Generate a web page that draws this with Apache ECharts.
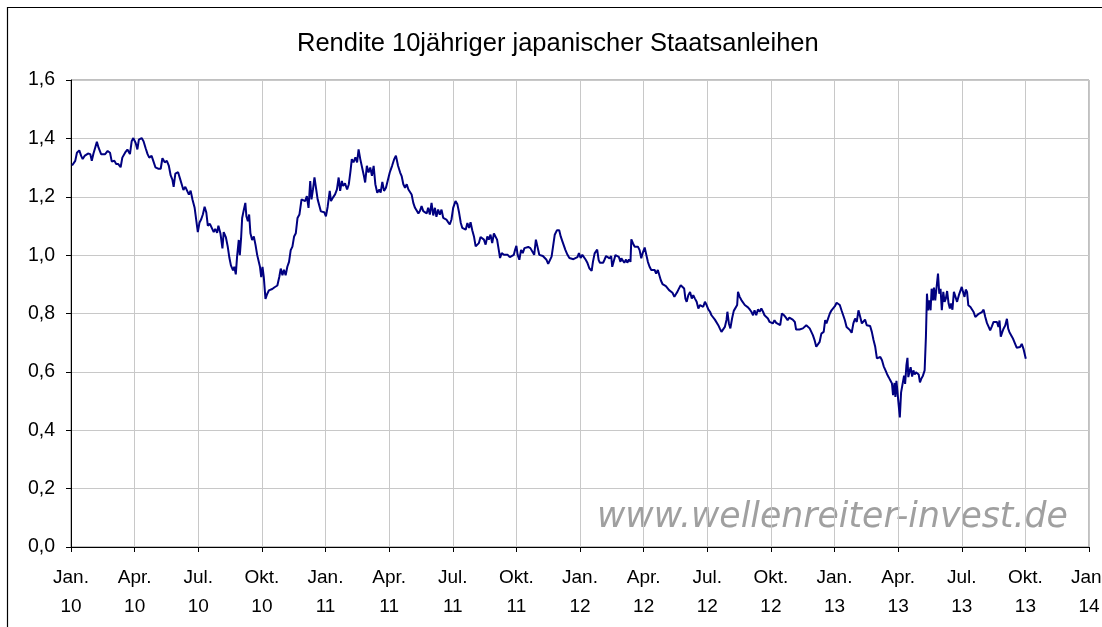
<!DOCTYPE html>
<html>
<head>
<meta charset="utf-8">
<title>Rendite 10jähriger japanischer Staatsanleihen</title>
<script src="https://cdn.jsdelivr.net/npm/echarts@6/dist/echarts.min.js"></script>
<style>
  html, body { margin: 0; padding: 0; background: #fff; }
  #chart { width: 1102px; height: 627px; }
</style>
</head>
<body>
<div id="chart"></div>
<script>
// Monate seit Jan. 2010, Rendite in %
const titel = 'Rendite 10jähriger japanischer Staatsanleihen';
const quelle = 'www.wellenreiter-invest.de';
const xLabels = ['Jan.\n10', 'Apr.\n10', 'Jul.\n10', 'Okt.\n10',
                 'Jan.\n11', 'Apr.\n11', 'Jul.\n11', 'Okt.\n11',
                 'Jan.\n12', 'Apr.\n12', 'Jul.\n12', 'Okt.\n12',
                 'Jan.\n13', 'Apr.\n13', 'Jul.\n13', 'Okt.\n13', 'Jan.\n14'];

const jahr2010 = [
  [0.05,1.307],[0.2,1.323],[0.28,1.351],[0.39,1.359],[0.48,1.34],[0.55,1.329],[0.64,1.34],[0.7,1.346],[0.8,1.348],[0.91,1.346],
  [0.98,1.323],[1.06,1.348],[1.14,1.368],[1.22,1.388],[1.3,1.368],[1.42,1.346],[1.61,1.346],[1.73,1.357],[1.84,1.351],[1.92,1.321],
  [2.05,1.323],[2.13,1.312],[2.23,1.312],[2.34,1.301],[2.42,1.334],[2.55,1.351],[2.66,1.362],[2.78,1.346],[2.86,1.39],[2.94,1.401],
  [3.05,1.384],[3.13,1.362],[3.2,1.396],[3.33,1.401],[3.42,1.39],[3.52,1.366],[3.61,1.346],[3.69,1.334],[3.8,1.34],[3.88,1.323],
  [3.98,1.301],[4.11,1.296],[4.23,1.296],[4.31,1.332],[4.42,1.318],[4.52,1.323],[4.61,1.307],[4.7,1.273],[4.78,1.259],[4.84,1.234],
  [4.92,1.279],[5.05,1.284],[5.14,1.262],[5.23,1.24],[5.3,1.223],[5.39,1.234],[5.48,1.24],[5.56,1.207],[5.64,1.221],[5.73,1.19],
  [5.83,1.162],[5.91,1.168],[5.98,1.079],[6.06,1.112],[6.14,1.123],[6.22,1.14],[6.3,1.166],[6.38,1.146],[6.45,1.101],[6.55,1.107],
  [6.64,1.103],[6.73,1.079],[6.8,1.09],[6.89,1.076],[6.95,1.101],[7.05,1.073],[7.14,1.023],[7.2,1.079],[7.3,1.062],[7.39,1.029],
  [7.47,0.99],[7.54,0.965],[7.64,0.948],[7.7,0.96],[7.77,0.934],[7.83,0.994],[7.91,1.052],[7.96,1.0],[8.02,1.058],[8.07,1.127],
  [8.15,1.156],[8.22,1.179],[8.27,1.133],[8.34,1.116],[8.4,1.139],[8.46,1.075],[8.54,1.052],[8.62,1.064],[8.7,1.035],[8.78,1.0],
  [8.86,1.0],[8.91,0.96],[8.97,0.925],[9.03,0.96],[9.09,0.925],[9.17,0.85],[9.25,0.867],[9.33,0.879],[9.41,0.873],[9.49,0.884],
  [9.6,0.89],[9.73,0.896],[9.82,0.925],[9.89,0.954],[9.97,0.931],[10.04,0.95],[10.12,0.931],[10.2,0.96],[10.28,0.977],[10.36,1.017],
  [10.44,1.029],[10.52,1.064],[10.6,1.075],[10.68,1.127],[10.77,1.139],[10.87,1.191],[10.96,1.197],[11.04,1.185],[11.12,1.202],[11.2,1.162],
  [11.28,1.254],[11.34,1.191],[11.41,1.225],[11.48,1.266],[11.56,1.272],[11.63,1.191],[11.72,1.185],[11.78,1.15],[11.86,1.156],[11.94,1.147]
];

const jahr2011 = [
  [12.02,1.133],[12.1,1.165],[12.2,1.22],[12.26,1.185],[12.35,1.197],[12.45,1.208],[12.54,1.225],[12.62,1.266],[12.69,1.22],[12.77,1.254],
  [12.83,1.237],[12.92,1.246],[13.02,1.225],[13.1,1.243],[13.18,1.289],[13.24,1.329],[13.32,1.318],[13.41,1.335],[13.49,1.318],[13.56,1.362],
  [13.64,1.329],[13.72,1.324],[13.81,1.272],[13.87,1.249],[13.95,1.306],[14.03,1.283],[14.11,1.3],[14.19,1.272],[14.27,1.306],[14.35,1.243],
  [14.44,1.214],[14.54,1.225],[14.6,1.214],[14.68,1.251],[14.76,1.22],[14.85,1.231],[14.93,1.254],[15.03,1.283],[15.14,1.306],[15.23,1.327],
  [15.32,1.341],[15.42,1.306],[15.52,1.283],[15.59,1.271],[15.67,1.243],[15.75,1.231],[15.83,1.243],[15.91,1.225],[15.98,1.22],[16.06,1.208],
  [16.14,1.179],[16.22,1.162],[16.3,1.168],[16.38,1.143],[16.45,1.151],[16.53,1.168],[16.61,1.151],[16.69,1.156],[16.77,1.143],[16.84,1.162],
  [16.92,1.139],[17.0,1.179],[17.08,1.136],[17.16,1.162],[17.23,1.131],[17.31,1.156],[17.39,1.139],[17.47,1.156],[17.55,1.128],[17.63,1.124],
  [17.7,1.122],[17.78,1.113],[17.86,1.105],[17.94,1.122],[18.02,1.162],[18.13,1.185],[18.22,1.174],[18.3,1.145],[18.38,1.11],[18.45,1.093],
  [18.53,1.097],[18.61,1.087],[18.69,1.11],[18.77,1.093],[18.84,1.113],[18.92,1.085],[19.0,1.064],[19.08,1.03],[19.16,1.024],[19.23,1.041],
  [19.31,1.062],[19.39,1.064],[19.47,1.053],[19.55,1.036],[19.63,1.064],[19.7,1.053],[19.78,1.07],[19.86,1.041],[19.94,1.074],[20.02,1.076],
  [20.09,1.053],[20.17,1.018],[20.23,0.99],[20.31,1.007],[20.41,1.001],[20.5,0.995],[20.59,1.001],[20.69,0.993],[20.78,0.997],[20.88,1.001],
  [20.94,1.018],[21.0,1.032],[21.06,1.001],[21.14,0.984],[21.22,1.018],[21.3,1.007],[21.38,1.024],[21.47,1.021],[21.56,1.028],[21.66,1.024],
  [21.75,1.03],[21.84,1.001],[21.92,1.053],[22.0,1.055],[22.08,1.001],[22.16,1.001],[22.25,0.997],[22.34,0.993],[22.42,0.984],[22.5,0.97],
  [22.58,0.972],[22.66,0.995],[22.73,1.03],[22.81,1.07],[22.91,1.085],[23.02,1.085],[23.09,1.064],[23.17,1.047],[23.25,1.053],[23.31,1.018],
  [23.41,1.001],[23.5,0.99],[23.59,0.984],[23.69,0.986],[23.78,0.99],[23.88,0.993],[23.95,1.007]
];

const jahr2012 = [
  [24.03,0.99],[24.11,1.001],[24.19,0.995],[24.27,0.984],[24.34,0.975],[24.44,0.955],[24.5,0.96],[24.55,0.946],[24.61,0.977],[24.69,1.006],
  [24.75,1.011],[24.81,1.019],[24.88,0.983],[24.94,0.974],[25.02,0.971],[25.09,0.974],[25.16,0.985],[25.23,0.997],[25.31,1.0],[25.39,0.989],
  [25.47,0.997],[25.52,0.96],[25.59,0.966],[25.67,1.0],[25.75,1.0],[25.83,0.994],[25.91,0.977],[25.95,0.989],[26.03,0.983],[26.09,0.974],
  [26.17,0.985],[26.23,0.974],[26.31,0.985],[26.38,0.977],[26.42,1.054],[26.5,1.04],[26.58,1.029],[26.66,1.026],[26.73,1.029],[26.81,1.017],
  [26.89,0.989],[26.95,1.006],[27.05,1.026],[27.13,1.0],[27.2,0.977],[27.28,0.96],[27.36,0.949],[27.44,0.943],[27.52,0.949],[27.59,0.937],
  [27.67,0.949],[27.75,0.943],[27.81,0.914],[27.89,0.901],[27.97,0.903],[28.05,0.894],[28.13,0.897],[28.2,0.88],[28.28,0.874],[28.36,0.871],
  [28.45,0.857],[28.52,0.866],[28.59,0.874],[28.67,0.886],[28.75,0.897],[28.83,0.903],[28.91,0.886],[28.97,0.851],[29.03,0.84],[29.11,0.863],
  [29.19,0.874],[29.27,0.851],[29.34,0.863],[29.42,0.851],[29.5,0.84],[29.58,0.817],[29.66,0.829],[29.73,0.834],[29.81,0.823],[29.89,0.84],
  [29.97,0.829],[30.05,0.814],[30.13,0.806],[30.2,0.794],[30.28,0.789],[30.36,0.779],[30.44,0.777],[30.52,0.76],[30.59,0.749],[30.67,0.737],
  [30.75,0.743],[30.83,0.754],[30.91,0.779],[30.95,0.806],[31.02,0.766],[31.09,0.749],[31.17,0.783],[31.25,0.809],[31.33,0.811],[31.41,0.829],
  [31.45,0.874],[31.53,0.857],[31.61,0.846],[31.69,0.84],[31.77,0.829],[31.84,0.823],[31.92,0.821],[32.0,0.814],[32.08,0.806],[32.16,0.794],
  [32.23,0.811],[32.31,0.794],[32.39,0.814],[32.47,0.806],[32.55,0.817],[32.63,0.806],[32.7,0.794],[32.78,0.789],[32.86,0.783],[32.94,0.771],
  [33.02,0.777],[33.09,0.766],[33.17,0.777],[33.25,0.768],[33.34,0.766],[33.44,0.76],[33.52,0.8],[33.62,0.794],[33.71,0.786],[33.79,0.777],
  [33.87,0.786],[33.95,0.789],[34.03,0.779],[34.13,0.771],[34.19,0.745],[34.27,0.749],[34.35,0.745],[34.43,0.749],[34.51,0.749],[34.59,0.754],
  [34.67,0.76],[34.75,0.754],[34.83,0.749],[34.9,0.743],[34.98,0.726],[35.06,0.709],[35.14,0.686],[35.22,0.691],[35.3,0.703],[35.38,0.731],
  [35.43,0.734],[35.49,0.737],[35.56,0.777],[35.62,0.766],[35.7,0.771],[35.78,0.8],[35.86,0.811],[35.94,0.817]
];

const jahr2013 = [
  [36.02,0.825],[36.1,0.837],[36.17,0.837],[36.25,0.829],[36.33,0.811],[36.41,0.794],[36.49,0.777],[36.57,0.754],[36.65,0.76],[36.73,0.743],
  [36.81,0.734],[36.89,0.766],[36.97,0.783],[37.05,0.771],[37.13,0.811],[37.21,0.789],[37.29,0.766],[37.37,0.76],[37.44,0.779],[37.52,0.76],
  [37.6,0.76],[37.68,0.757],[37.76,0.737],[37.84,0.709],[37.92,0.686],[38.0,0.646],[38.08,0.651],[38.16,0.651],[38.24,0.64],[38.32,0.619],
  [38.4,0.606],[38.48,0.592],[38.56,0.581],[38.63,0.571],[38.71,0.56],[38.76,0.52],[38.83,0.562],[38.87,0.514],[38.92,0.569],[38.98,0.566],
  [39.08,0.444],[39.14,0.53],[39.22,0.53],[39.28,0.587],[39.33,0.559],[39.39,0.622],[39.44,0.648],[39.48,0.582],[39.55,0.605],[39.59,0.616],
  [39.66,0.584],[39.72,0.605],[39.78,0.591],[39.84,0.599],[39.91,0.602],[39.97,0.591],[40.03,0.564],[40.09,0.576],[40.17,0.587],[40.25,0.605],
  [40.31,0.719],[40.36,0.868],[40.41,0.811],[40.47,0.845],[40.53,0.811],[40.58,0.885],[40.64,0.845],[40.69,0.889],[40.75,0.845],[40.81,0.848],
  [40.88,0.937],[40.94,0.868],[41.0,0.885],[41.06,0.811],[41.13,0.874],[41.19,0.84],[41.25,0.851],[41.31,0.877],[41.38,0.834],[41.44,0.817],
  [41.5,0.834],[41.56,0.813],[41.63,0.874],[41.7,0.877],[41.78,0.84],[41.86,0.862],[41.94,0.868],[42.0,0.891],[42.06,0.874],[42.13,0.857],
  [42.19,0.882],[42.25,0.874],[42.31,0.828],[42.41,0.822],[42.48,0.817],[42.56,0.805],[42.64,0.788],[42.72,0.782],[42.8,0.799],[42.88,0.802],
  [42.95,0.805],[43.03,0.813],[43.11,0.788],[43.19,0.767],[43.27,0.754],[43.34,0.742],[43.42,0.756],[43.5,0.771],[43.58,0.774],[43.66,0.771],
  [43.73,0.754],[43.78,0.776],[43.84,0.721],[43.91,0.736],[43.97,0.748],[44.05,0.759],[44.13,0.782],[44.19,0.748],[44.25,0.736],[44.31,0.731],
  [44.38,0.719],[44.44,0.71],[44.52,0.708],[44.59,0.683],[44.67,0.679],[44.75,0.685],[44.83,0.696],[44.91,0.679],[44.97,0.673],[45.02,0.645]
];

const rendite = jahr2010.concat(jahr2011, jahr2012, jahr2013);

const chart = echarts.init(document.getElementById('chart'));
chart.setOption({
  animation: false,
  backgroundColor: '#fff',
  textStyle: { fontFamily: 'Liberation Sans, Arial, sans-serif' },
  title: {
    text: titel,
    left: 292,
    top: 26,
    textStyle: { fontSize: 25.5, fontWeight: 'normal', color: '#000', fontFamily: 'Liberation Sans, Arial, sans-serif' }
  },
  grid: {
    left: 71, right: 13, top: 80, bottom: 80,
    outerBoundsMode: 'none',
    containLabel: false,
    show: true, borderColor: '#808080', borderWidth: 1
  },
  xAxis: {
    type: 'value',
    min: 0, max: 48, interval: 3,
    axisLine: { lineStyle: { color: '#000', width: 1 } },
    axisTick: { length: 5, lineStyle: { color: '#000' } },
    axisLabel: {
      formatter: v => xLabels[Math.round(v / 3)],
      fontSize: 19, color: '#000', lineHeight: 29, margin: 16,
      showMaxLabel: true, hideOverlap: false
    },
    splitLine: { show: true, lineStyle: { color: '#c8c8c8', width: 1 } }
  },
  yAxis: {
    type: 'value',
    min: 0, max: 1.6, interval: 0.2,
    axisLine: { show: true, lineStyle: { color: '#000', width: 1 } },
    axisTick: { show: true, length: 5, lineStyle: { color: '#000' } },
    axisLabel: {
      formatter: v => v.toFixed(1).replace('.', ','),
      fontSize: 19.5, color: '#000', margin: 16
    },
    splitLine: { show: true, lineStyle: { color: '#c8c8c8', width: 1 } }
  },
  graphic: [
    {
      type: 'polyline', silent: true, z: 100,
      shape: { points: [[7.5, 627], [7.5, 7.5], [1102, 7.5]] },
      style: { fill: 'none', stroke: '#000', lineWidth: 1.2 }
    },
    {
      type: 'text', silent: true, z: -1,
      x: 597, y: 518,
      style: {
        text: quelle,
        fill: '#a0a0a0',
        font: 'italic 34.7px "DejaVu Sans", Verdana, sans-serif',
        verticalAlign: 'middle'
      }
    }
  ],
  series: [{
    type: 'line',
    data: rendite,
    showSymbol: false,
    symbol: 'none',
    lineStyle: { color: '#000080', width: 2 },
    z: 5
  }]
});
</script>
</body>
</html>
